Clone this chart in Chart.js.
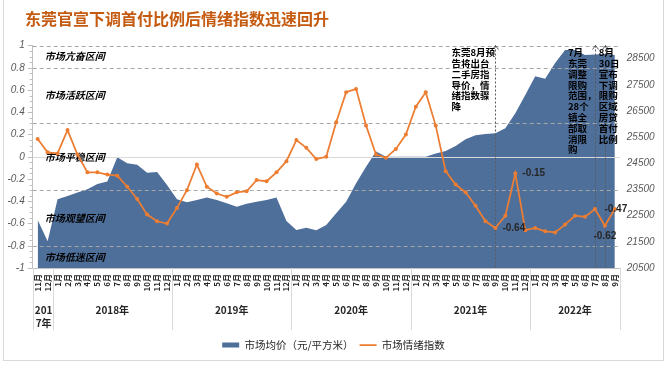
<!DOCTYPE html>
<html>
<head>
<meta charset="utf-8">
<script src="https://cdn.jsdelivr.net/npm/chart.js@4.4.1/dist/chart.umd.min.js"></script>
<style>
  html, body { margin: 0; padding: 0; background: #fff; }
  #wrap { width: 667px; height: 368px; }
</style>
</head>
<body>
<div id="wrap"><canvas id="moodChart" width="667" height="368"></canvas></div>
<script>
// 标题
const chartTitle = '东莞官宣下调首付比例后情绪指数迅速回升';

// 分类：年份及每年的月份
const years = ['2017年', '2018年', '2019年', '2020年', '2021年', '2022年'];
const yearFirstMonth = [11, 1, 1, 1, 1, 1];
const yearMonthCount = [2, 12, 12, 12, 12, 9];

// 市场均价（元/平方米），2017.11 - 2022.9
const avgPrice = [
    22330, 21520, 23130, 23250, 23380, 23510, 23710, 23800, 24730, 24500,
    24440, 24140, 24170, 23670, 23130, 23010, 23100, 23190, 23100, 22970,
    22840, 22950, 23030, 23100, 23190, 22300, 21950, 22040, 21940, 22140,
    22590, 23030, 23740, 24370, 24950, 24750, 24750, 24750, 24750, 24750,
    24870, 24970, 25160, 25420, 25570, 25620, 25650, 25840, 26410, 27110,
    27830, 27730, 28330, 28830, 28830, 28640, 28660, 28680, 28640
];

// 市场情绪指数
const moodIndex = [
    0.16, 0.04, 0.03, 0.24, 0.02, -0.14, -0.14, -0.16, -0.17, -0.27,
    -0.38, -0.52, -0.58, -0.60, -0.46, -0.30, -0.07, -0.27, -0.33, -0.36,
    -0.32, -0.31, -0.21, -0.22, -0.14, -0.04, 0.15, 0.08, -0.02, 0.00,
    0.31, 0.58, 0.61, 0.28, 0.02, -0.01, 0.07, 0.20, 0.45, 0.58,
    0.28, -0.13, -0.25, -0.32, -0.44, -0.58, -0.64, -0.53, -0.15, -0.66,
    -0.64, -0.67, -0.68, -0.61, -0.53, -0.54, -0.47, -0.62, -0.47
];

// 坐标轴刻度
const leftTicks = [-1, -0.8, -0.6, -0.4, -0.2, 0, 0.2, 0.4, 0.6, 0.8, 1];
const rightTicks = [20500, 21500, 22500, 23500, 24500, 25500, 26500, 27500, 28500];

// 情绪区间
const zoneBounds = [1, 0.8, 0.3, -0.3, -0.8, -1];
const zoneNames = ['市场亢奋区间', '市场活跃区间', '市场平稳区间', '市场观望区间', '市场低迷区间'];

// 标注数值的点
const labelledIdx = [46, 48, 57, 58];
const labelPlace = ['right', 'right', 'below', 'center'];

// 事件说明
const eventIdx = [46, 56, 57];
const eventLines = [
    ['东莞8月预', '告将出台', '二手房指', '导价，情', '绪指数骤', '降'],
    ['7月', '东莞', '调整', '限购', '范围，', '28个', '镇全', '部取', '消限', '购'],
    ['8月', '30日', '宣布', '下调', '限购', '区域', '房贷', '首付', '比例']
];
const eventTextDx = [-44, -27, -6];

const CJK = '"Noto Sans CJK SC", sans-serif';
const NUM = '"Liberation Sans", Arial, sans-serif';
const BLUE = '#4F6F9B';
const ORANGE = '#ED7D31';

const monthLabels = [];
years.forEach((y, k) => {
    for (let m = 0; m < yearMonthCount[k]; m++) {
        monthLabels.push((yearFirstMonth[k] + m) + '月');
    }
});

const decor = {
    id: 'decor',
    beforeDraw(chart) {
        const ctx = chart.ctx;
        ctx.save();
        ctx.fillStyle = '#fff';
        ctx.fillRect(0, 0, chart.width, chart.height);
        ctx.strokeStyle = '#D9D9D9';
        ctx.lineWidth = 1;
        ctx.strokeRect(3.5, -1, 660, 361.5);
        ctx.restore();
    },
    afterDatasetDraw(chart, args) {
        if (args.index !== 0) return;
        const ctx = chart.ctx;
        const area = chart.chartArea;
        const y = chart.scales.y;
        const x = chart.scales.x;
        ctx.save();
        // 区间分界线
        zoneBounds.forEach(v => {
            if (v === -1) return;
            const py = Math.round(y.getPixelForValue(v)) + 0.5;
            ctx.strokeStyle = '#A6A6A6';
            ctx.setLineDash([4, 3]);
            ctx.beginPath();
            ctx.moveTo(area.left, py);
            ctx.lineTo(area.right, py);
            ctx.stroke();
        });
        // 零线
        ctx.setLineDash([]);
        ctx.strokeStyle = '#D9D9D9';
        const zy = Math.round(y.getPixelForValue(0)) + 0.5;
        ctx.beginPath();
        ctx.moveTo(area.left, zy);
        ctx.lineTo(area.right, zy);
        ctx.stroke();

        // 区间名称
        ctx.fillStyle = '#000';
        ctx.font = 'italic bold 10px ' + CJK;
        ctx.textAlign = 'left';
        ctx.textBaseline = 'middle';
        zoneNames.forEach((name, i) => {
            const mid = (zoneBounds[i] + zoneBounds[i + 1]) / 2;
            ctx.fillText(name, area.left + 12, y.getPixelForValue(mid));
        });

        // 事件竖线
        ctx.strokeStyle = '#595959';
        ctx.lineWidth = 1;
        eventIdx.forEach(i => {
            const px = Math.round(x.getPixelForValue(i)) + 0.5;
            ctx.setLineDash([2, 2]);
            ctx.beginPath();
            ctx.moveTo(px, area.top);
            ctx.lineTo(px, area.bottom);
            ctx.stroke();
            ctx.setLineDash([]);
            ctx.beginPath();
            ctx.moveTo(px - 3, area.top + 4);
            ctx.lineTo(px, area.top);
            ctx.lineTo(px + 3, area.top + 4);
            ctx.stroke();
        });
        ctx.restore();
    },
    afterDatasetsDraw(chart) {
        const ctx = chart.ctx;
        const area = chart.chartArea;
        const x = chart.scales.x;
        const y = chart.scales.y;
        ctx.save();
        // 事件说明文字
        ctx.fillStyle = '#000';
        ctx.font = 'bold 9.5px ' + CJK;
        ctx.textAlign = 'left';
        ctx.textBaseline = 'middle';
        eventIdx.forEach((i, k) => {
            const px = x.getPixelForValue(i) + eventTextDx[k];
            eventLines[k].forEach((line, j) => {
                ctx.fillText(line, px, area.top + 7 + j * 10.8);
            });
        });
        // 数据标签
        ctx.fillStyle = '#262626';
        ctx.font = 'bold 10px ' + NUM;
        labelledIdx.forEach((i, k) => {
            const px = x.getPixelForValue(i);
            const py = y.getPixelForValue(moodIndex[i]);
            const txt = moodIndex[i].toFixed(2);
            if (labelPlace[k] === 'right') {
                ctx.textAlign = 'left';
                ctx.fillText(txt, px + 7, py);
            } else if (labelPlace[k] === 'below') {
                ctx.textAlign = 'center';
                ctx.fillText(txt, px, py + 11);
            } else {
                ctx.textAlign = 'center';
                ctx.fillText(txt, px + 1, py);
            }
        });
        ctx.restore();
    },
    afterDraw(chart) {
        const ctx = chart.ctx;
        const area = chart.chartArea;
        const x = chart.scales.x;
        const y = chart.scales.y;
        ctx.save();
        // 标题
        ctx.fillStyle = '#C55A11';
        ctx.font = 'bold 16px ' + CJK;
        ctx.textAlign = 'left';
        ctx.textBaseline = 'middle';
        ctx.fillText(chartTitle, 25, 19);

        // 左轴小刻度
        ctx.strokeStyle = '#BFBFBF';
        ctx.lineWidth = 1;
        for (let v = -1; v <= 1.0001; v += 0.05) {
            const py = Math.round(y.getPixelForValue(v)) + 0.5;
            const major = Math.abs(Math.round(v * 5) - v * 5) < 0.001;
            ctx.beginPath();
            ctx.moveTo(area.left - (major ? 5 : 3), py);
            ctx.lineTo(area.left, py);
            ctx.stroke();
        }

        // 年份分隔线与年份
        ctx.strokeStyle = '#D9D9D9';
        let start = 0;
        const bounds = [0];
        yearMonthCount.forEach(n => { start += n; bounds.push(start); });
        bounds.forEach(b => {
            const px = Math.round(x.getPixelForValue(b - 0.5)) + 0.5;
            ctx.beginPath();
            ctx.moveTo(px, area.bottom);
            ctx.lineTo(px, 330);
            ctx.stroke();
        });
        ctx.fillStyle = '#262626';
        ctx.font = 'bold 10px ' + CJK;
        ctx.textAlign = 'center';
        years.forEach((yr, k) => {
            const x0 = x.getPixelForValue(bounds[k] - 0.5);
            const x1 = x.getPixelForValue(bounds[k + 1] - 0.5);
            const cx = (x0 + x1) / 2;
            const room = x1 - x0 - 2;
            const lines = [];
            let cur = '';
            for (const ch of yr) {
                if (cur && ctx.measureText(cur + ch).width > room) {
                    lines.push(cur);
                    cur = ch;
                } else {
                    cur += ch;
                }
            }
            lines.push(cur);
            lines.forEach((ln, j) => ctx.fillText(ln, cx + (lines.length > 1 ? 1 : 0), 310 + j * 13));
        });
        ctx.restore();
    }
};

// 图例：面积用方块，折线用短线，按数据集顺序排列
const legendItems = chart => {
    const items = Chart.defaults.plugins.legend.labels.generateLabels(chart);
    items.sort((a, b) => a.datasetIndex - b.datasetIndex);
    items.forEach(item => {
        if (item.datasetIndex === 0) {
            item.pointStyle = 'rect';
            item.lineWidth = 0;
        } else {
            item.pointStyle = 'line';
            item.lineWidth = 1.75;
            item.strokeStyle = ORANGE;
        }
    });
    return items;
};

new Chart(document.getElementById('moodChart'), {
    type: 'line',
    data: {
        labels: monthLabels,
        datasets: [{
            label: '市场均价（元/平方米）',
            data: avgPrice,
            yAxisID: 'y1',
            fill: 'start',
            backgroundColor: BLUE,
            borderColor: BLUE,
            borderWidth: 0,
            pointRadius: 0,
            tension: 0,
            order: 2
        }, {
            label: '市场情绪指数',
            data: moodIndex,
            yAxisID: 'y',
            fill: false,
            borderColor: ORANGE,
            backgroundColor: ORANGE,
            borderWidth: 1.75,
            pointRadius: 2,
            pointBorderWidth: 0,
            pointBackgroundColor: ORANGE,
            tension: 0,
            order: 1
        }]
    },
    options: {
        responsive: false,
        animation: false,
        devicePixelRatio: 1,
        layout: { padding: { top: 45.5, left: 0, right: 0, bottom: 7.75 } },
        plugins: {
            title: { display: false },
            tooltip: { enabled: false },
            legend: {
                position: 'bottom',
                labels: {
                    usePointStyle: true,
                    pointStyleWidth: 17,
                    boxHeight: 5,
                    padding: 6,
                    color: '#262626',
                    font: { family: CJK, size: 10.5 },
                    generateLabels: legendItems
                }
            }
        },
        scales: {
            x: {
                type: 'category',
                offset: true,
                grid: { display: false, drawTicks: false },
                border: { display: true, color: '#BFBFBF' },
                ticks: {
                    autoSkip: false,
                    minRotation: 90,
                    maxRotation: 90,
                    padding: 6,
                    color: '#262626',
                    font: { family: CJK, size: 8, weight: 'bold' }
                },
                afterFit: s => { s.height = 65.75; }
            },
            y: {
                position: 'left',
                min: -1,
                max: 1,
                grid: { display: false, drawTicks: false },
                border: { display: true, color: '#BFBFBF' },
                ticks: {
                    padding: 8,
                    color: '#595959',
                    font: { family: NUM, size: 10, style: 'italic' },
                    callback: v => String(v)
                },
                afterBuildTicks: s => { s.ticks = leftTicks.map(v => ({ value: v })); },
                afterFit: s => { s.width = 32.7; }
            },
            y1: {
                position: 'right',
                min: 20500,
                max: 29000,
                grid: { display: false, drawTicks: false },
                border: { display: false },
                ticks: {
                    padding: 7,
                    color: '#595959',
                    font: { family: NUM, size: 10, style: 'italic' },
                    callback: v => String(v)
                },
                afterBuildTicks: s => { s.ticks = rightTicks.map(v => ({ value: v })); },
                afterFit: s => { s.width = 47.2; }
            }
        }
    },
    plugins: [decor]
});
</script>
</body>
</html>
